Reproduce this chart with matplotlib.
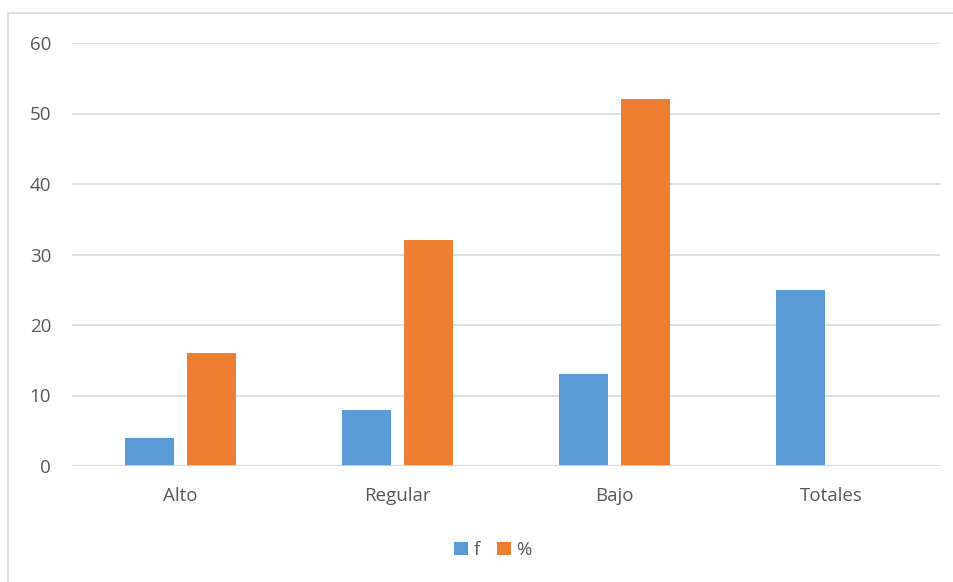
import matplotlib
matplotlib.use("Agg")
import matplotlib.pyplot as plt
import numpy as np
from matplotlib.patches import Rectangle

categories = ["Alto", "Regular", "Bajo", "Totales"]
f_values = [4, 8, 13, 25]
pct_values = [16, 32, 52, 0]
series_names = ["f", "%"]
yticks = [0, 10, 20, 30, 40, 50, 60]

plt.rcParams['font.family'] = ['Open Sans', 'DejaVu Sans']

W, H = 954, 582
fig = plt.figure(figsize=(W/100, H/100), dpi=100)
ax = fig.add_axes([72/W, 1-466/H, (940-72)/W, (466-43)/H])

x = np.arange(len(categories))
bw = 0.226
off = 0.143
ax.bar(x - off, f_values, width=bw, color="#5B9BD5", label=series_names[0], zorder=3)
ax.bar(x + off, pct_values, width=bw, color="#ED7D31", label=series_names[1], zorder=3)

ax.set_xlim(-0.5, len(categories) - 0.5)
ax.set_ylim(0, 60)
ax.set_yticks(yticks)
ax.set_xticks(x)
ax.set_xticklabels(categories)
ax.grid(axis="y", color="#D9D9D9", linewidth=1.2, zorder=0)
for s in ["top", "right", "left", "bottom"]:
    ax.spines[s].set_visible(False)
ax.axhline(0, color="#D9D9D9", linewidth=1.2, zorder=4)
ax.tick_params(axis="both", length=0, labelsize=13.5, colors="#595959")
ax.tick_params(axis="y", pad=15)
ax.tick_params(axis="x", pad=15)

leg = fig.legend(loc="center", bbox_to_anchor=(493/W, 1-550/H), ncol=2, frameon=False,
                 fontsize=13.5, handlelength=0.75, handleheight=0.75, handletextpad=0.3,
                 columnspacing=0.9, labelcolor="#595959")

fig.patches.append(Rectangle((8/W, -0.1), 1.2, (1-13/H) + 0.1, transform=fig.transFigure,
                             fill=False, edgecolor="#D9D9D9", linewidth=1.2))

fig.savefig("out.png", dpi=100)
